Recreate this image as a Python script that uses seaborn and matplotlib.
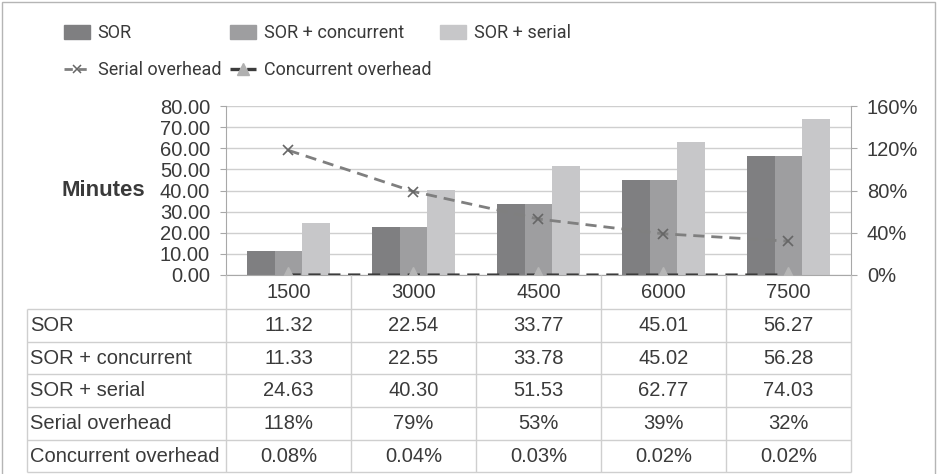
import numpy as np
import pandas as pd
import matplotlib
matplotlib.use('Agg')
import matplotlib.pyplot as plt
from matplotlib.patches import Patch, Rectangle
from matplotlib.lines import Line2D
from matplotlib.ticker import FuncFormatter, MultipleLocator
import seaborn as sns

#------------------------------------------
sizes=['1500','3000','4500','6000','7500']
series=['SOR','SOR + concurrent','SOR + serial']
sor=[11.32,22.54,33.77,45.01,56.27]
sor_conc=[11.33,22.55,33.78,45.02,56.28]
sor_serial=[24.63,40.30,51.53,62.77,74.03]
serial_oh=[118,79,53,39,32]          #percent
conc_oh=[0.08,0.04,0.03,0.02,0.02]   #percent

bar_colors=['#7f7f81','#9e9ea0','#c7c7c9']
txt_c='#3a3a3a'
grid_c='#cfcfcf'
axis_c='#a8a8a8'
fs=14.5
W,H=938,474
L,R,T,B=226,851,106,275   #plot box, px

#####################################################
sns.set_style('white')
plt.rcParams['font.family']=['Liberation Sans','DejaVu Sans']

df=pd.DataFrame({'size':sizes*3,
                 'series':np.repeat(series, len(sizes)),
                 'minutes':sor+sor_conc+sor_serial})

fig=plt.figure(figsize=(W/100, H/100), dpi=100)
ax=fig.add_axes([L/W, 1-B/H, (R-L)/W, (B-T)/H])

#bars
sns.barplot(data=df, x='size', y='minutes', hue='series', palette=bar_colors,
            width=0.66, saturation=1, edgecolor='none', legend=False, ax=ax)
ax.set_xlim(-0.5, len(sizes)-0.5)
ax.set_ylim(0, 80)
ax.yaxis.set_major_locator(MultipleLocator(10))
ax.yaxis.set_major_formatter(FuncFormatter(lambda v, p: f'{v:.2f}'))
ax.yaxis.grid(True, color=grid_c, lw=1)
ax.set_axisbelow(True)
for s in ['top', 'right']: ax.spines[s].set_visible(False)
for s in ['left', 'bottom']: ax.spines[s].set_color(axis_c)
ax.tick_params(axis='y', length=4.5, color=axis_c, pad=7, labelsize=fs, labelcolor=txt_c)
ax.tick_params(axis='x', length=0, pad=6, labelsize=fs, labelcolor=txt_c)
ax.set_xlabel('')
ax.set_ylabel('Minutes', rotation=0, ha='right', va='center', fontsize=16,
              weight='bold', color=txt_c)
ax.yaxis.set_label_coords((145-L)/(R-L), 0.5)

#overhead lines
ax2=ax.twinx()
xs=np.arange(len(sizes))
ax2.plot(xs, serial_oh, ls=(0, (4, 2.5)), color='#7f7f7f', lw=2,
         marker='x', ms=7, mec='#666666', mew=1.2)
ax2.plot(xs, conc_oh, ls=(0, (4, 2.5)), color='#3c3c3c', lw=2.2,
         marker='^', ms=12, mfc='#b6b6b6', mec='#b6b6b6')
ax2.set_ylim(0, 160)
ax2.yaxis.set_major_locator(MultipleLocator(40))
ax2.yaxis.set_major_formatter(FuncFormatter(lambda v, p: f'{v:.0f}%'))
for s in ['top', 'left', 'bottom']: ax2.spines[s].set_visible(False)
ax2.spines['right'].set_color(axis_c)
ax2.tick_params(axis='y', length=4.5, color=axis_c, pad=7, labelsize=fs, labelcolor=txt_c)

#data table
ax_t=fig.add_axes([0, 0, 1, 1])
ax_t.set_xlim(0, W)
ax_t.set_ylim(H, 0)
ax_t.axis('off')
rows=[309, 342, 374, 407, 440, 472]
edges=[L+(R-L)*k/len(sizes) for k in range(len(sizes)+1)]
ax_t.vlines(edges, B, rows[0], color=grid_c, lw=1)
ax_t.vlines([27]+edges, rows[0], rows[-1], color=grid_c, lw=1)
ax_t.hlines(rows, 27, R, color=grid_c, lw=1)

tab_labels=series+['Serial overhead', 'Concurrent overhead']
tab_vals=[[f'{v:.2f}' for v in sor],
          [f'{v:.2f}' for v in sor_conc],
          [f'{v:.2f}' for v in sor_serial],
          [f'{v:.0f}%' for v in serial_oh],
          [f'{v:.2f}%' for v in conc_oh]]
for i, (lab, vals) in enumerate(zip(tab_labels, tab_vals)):
    yc=(rows[i]+rows[i+1])/2
    ax_t.text(30, yc, lab, ha='left', va='center', fontsize=fs, color=txt_c)
    for j, v in enumerate(vals):
        ax_t.text((edges[j]+edges[j+1])/2, yc, v, ha='center', va='center',
                  fontsize=fs, color=txt_c)

#legend
handles=[Patch(color=bar_colors[0], label='SOR'),
         Line2D([], [], ls=(0, (3, 2)), color='#7f7f7f', lw=2, marker='x', ms=6,
                mec='#666666', mew=1.1, label='Serial overhead'),
         Patch(color=bar_colors[1], label='SOR + concurrent'),
         Line2D([], [], ls=(0, (3, 2)), color='#3c3c3c', lw=2.4, marker='^', ms=9,
                mfc='#b0b0b0', mec='#b0b0b0', label='Concurrent overhead'),
         Patch(color=bar_colors[2], label='SOR + serial')]
leg=fig.legend(handles=handles, ncol=3, loc='upper left', bbox_to_anchor=(48/W, 1-8/H),
               frameon=False, prop={'family': 'Roboto', 'size': 13},
               handlelength=1.45, handleheight=0.75, handletextpad=0.4,
               columnspacing=0.5, labelspacing=1.05)
for t in leg.get_texts(): t.set_color(txt_c)

#border
fig.add_artist(Rectangle((2/W, -0.01), 933/W, 1.01-1.5/H, transform=fig.transFigure,
                         fill=False, ec='#b5b5b5', lw=1))

plt.savefig('out.png', dpi=100)
plt.close()
